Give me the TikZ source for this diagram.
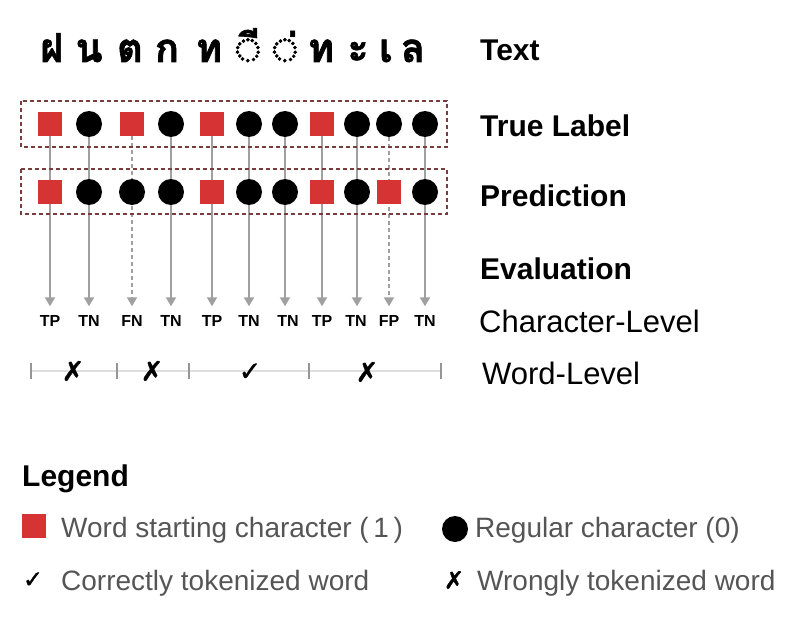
\documentclass[tikz,border=0pt]{standalone}
\usepackage{fontspec}
\setmainfont{Liberation Sans}
\newfontfamily\thaifont[Script=Thai, BoldFeatures={FakeBold=1.6}]{Loma}
\newfontfamily\symfont[FakeBold=1.2]{DejaVu Sans}
\usetikzlibrary{arrows.meta,positioning}
\definecolor{startred}{RGB}{214,52,52}
\definecolor{linegray}{RGB}{160,160,160}
\definecolor{boxbrown}{RGB}{122,60,60}
\definecolor{legendgray}{RGB}{85,85,85}
\definecolor{wordline}{RGB}{222,222,222}
\definecolor{tickgray}{RGB}{150,150,150}

\begin{document}
\begin{tikzpicture}[x=1pt,y=-1pt,node distance={68pt},
    startchar/.style = {fill=startred, minimum size=24pt, inner sep=0pt},
    regchar/.style = {circle, fill=black, minimum size=26pt, inner sep=0pt},
    thai/.style = {anchor=base, inner sep=0pt, font=\thaifont\bfseries\fontsize{40}{46}\selectfont},
    head/.style = {anchor=base west, inner sep=0pt, font=\bfseries\fontsize{30}{36}\selectfont},
    level/.style = {anchor=base west, inner sep=0pt, font=\fontsize{31}{36}\selectfont},
    ev/.style = {inner sep=0pt, font=\bfseries\fontsize{16}{18}\selectfont},
    hit/.style = {draw=linegray, line width=2pt, shorten >=9pt, -{Triangle[width=10pt,length=9pt]}},
    miss/.style = {hit, dash pattern=on 4pt off 3pt},
    labelbox/.style = {draw=boxbrown, line width=2pt, dash pattern=on 4pt off 3pt},
    wordtick/.style = {draw=tickgray, line width=2pt},
    verdict/.style = {inner sep=0pt, font=\symfont\fontsize{27}{30}\selectfont},
    keytext/.style = {anchor=base west, inner sep=0pt, text=legendgray, font=\fontsize{28}{32}\selectfont}]
    \useasboundingbox (0,0) rectangle (804,626);

    \node[thai] (c1) at (52,62) {ฝ};
    \node[thai] (c2) at (89,62) {น};
    \node[thai] (c3) at (130,62) {ต};
    \node[thai] (c4) at (167,62) {ก};
    \node[thai] (c5) at (209,62) {ท};
    \node[thai] (c6) at (248,62) {◌ี};
    \node[thai] (c7) at (285,62) {◌่};
    \node[thai] (c8) at (321,62) {ท};
    \node[thai] (c9) at (358,62) {ะ};
    \node[thai] (c10) at (386,62) {เ};
    \node[thai] (c11) at (413,62) {ล};

    \node[head] (textlbl) at (480,61) {Text};
    \node[head] (truelbl) at (480,136) {True Label};
    \node[head] (predlbl) at (480,206) {Prediction};
    \node[head] (evallbl) at (480,279) {Evaluation};
    \node[level] (charlbl) at (479,332) {Character-Level};
    \node[level] (wordlbl) at (482,384) {Word-Level};

    \node[startchar] (t1) at (50,124) {};
    \node[regchar] (t2) at (89,124) {};
    \node[startchar] (t3) at (132,124) {};
    \node[regchar] (t4) at (171,124) {};
    \node[startchar] (t5) at (212,124) {};
    \node[regchar] (t6) at (249,124) {};
    \node[regchar] (t7) at (285,124) {};
    \node[startchar] (t8) at (322,124) {};
    \node[regchar] (t9) at (357,124) {};
    \node[regchar] (t10) at (389,124) {};
    \node[regchar] (t11) at (425,124) {};

    \node[ev] (e1) at (50,321) {TP};
    \node[ev] (e2) at (89,321) {TN};
    \node[ev] (e3) at (132,321) {FN};
    \node[ev] (e4) at (171,321) {TN};
    \node[ev] (e5) at (212,321) {TP};
    \node[ev] (e6) at (249,321) {TN};
    \node[ev] (e7) at (288,321) {TN};
    \node[ev] (e8) at (322,321) {TP};
    \node[ev] (e9) at (356,321) {TN};
    \node[ev] (e10) at (389,321) {FP};
    \node[ev] (e11) at (425,321) {TN};

    \draw[hit] (t1) -- (t1 |- e1.north);
    \draw[hit] (t2) -- (t2 |- e2.north);
    \draw[miss] (t3) -- (t3 |- e3.north);
    \draw[hit] (t4) -- (t4 |- e4.north);
    \draw[hit] (t5) -- (t5 |- e5.north);
    \draw[hit] (t6) -- (t6 |- e6.north);
    \draw[hit] (t7) -- (t7 |- e7.north);
    \draw[hit] (t8) -- (t8 |- e8.north);
    \draw[hit] (t9) -- (t9 |- e9.north);
    \draw[miss] (t10) -- (t10 |- e10.north);
    \draw[hit] (t11) -- (t11 |- e11.north);

    \node[startchar] (p1) [below of=t1] {};
    \node[regchar] (p2) [below of=t2] {};
    \node[regchar] (p3) [below of=t3] {};
    \node[regchar] (p4) [below of=t4] {};
    \node[startchar] (p5) [below of=t5] {};
    \node[regchar] (p6) [below of=t6] {};
    \node[regchar] (p7) [below of=t7] {};
    \node[startchar] (p8) [below of=t8] {};
    \node[regchar] (p9) [below of=t9] {};
    \node[startchar] (p10) [below of=t10] {};
    \node[regchar] (p11) [below of=t11] {};

    \draw[labelbox] (21,101) rectangle (447,147);
    \draw[labelbox] (21,169) rectangle (447,214);

    \draw[draw=wordline, line width=2pt] (31,371) -- (441,371);
    \draw[wordtick] (31,363) -- (31,379);
    \draw[wordtick] (117,363) -- (117,379);
    \draw[wordtick] (189,363) -- (189,379);
    \draw[wordtick] (309,363) -- (309,379);
    \draw[wordtick] (441,363) -- (441,379);
    \node[verdict] (w1) at (73,371) {✗};
    \node[verdict] (w2) at (152,371) {✗};
    \node[verdict] (w3) at (250,372) {✓};
    \node[verdict] (w4) at (367,372) {✗};

    \node[head] (legend) at (22,486) {Legend};
    \node[startchar] (keystart) at (34,526) {};
    \node[keytext] (keystarttxt) at (61,537) {Word starting character (\,1\,)};
    \node[regchar] (keyreg) at (455,529) {};
    \node[keytext] (keyregtxt) at (475,537) {Regular character (0)};
    \node[verdict, font=\symfont\fontsize{24}{28}\selectfont] (keyok) at (33,580) {✓};
    \node[keytext] (keyoktxt) at (61,590) {Correctly tokenized word};
    \node[verdict, font=\symfont\fontsize{24}{28}\selectfont] (keybad) at (454,580) {✗};
    \node[keytext] (keybadtxt) at (477,590) {Wrongly tokenized word};
\end{tikzpicture}
\end{document}
